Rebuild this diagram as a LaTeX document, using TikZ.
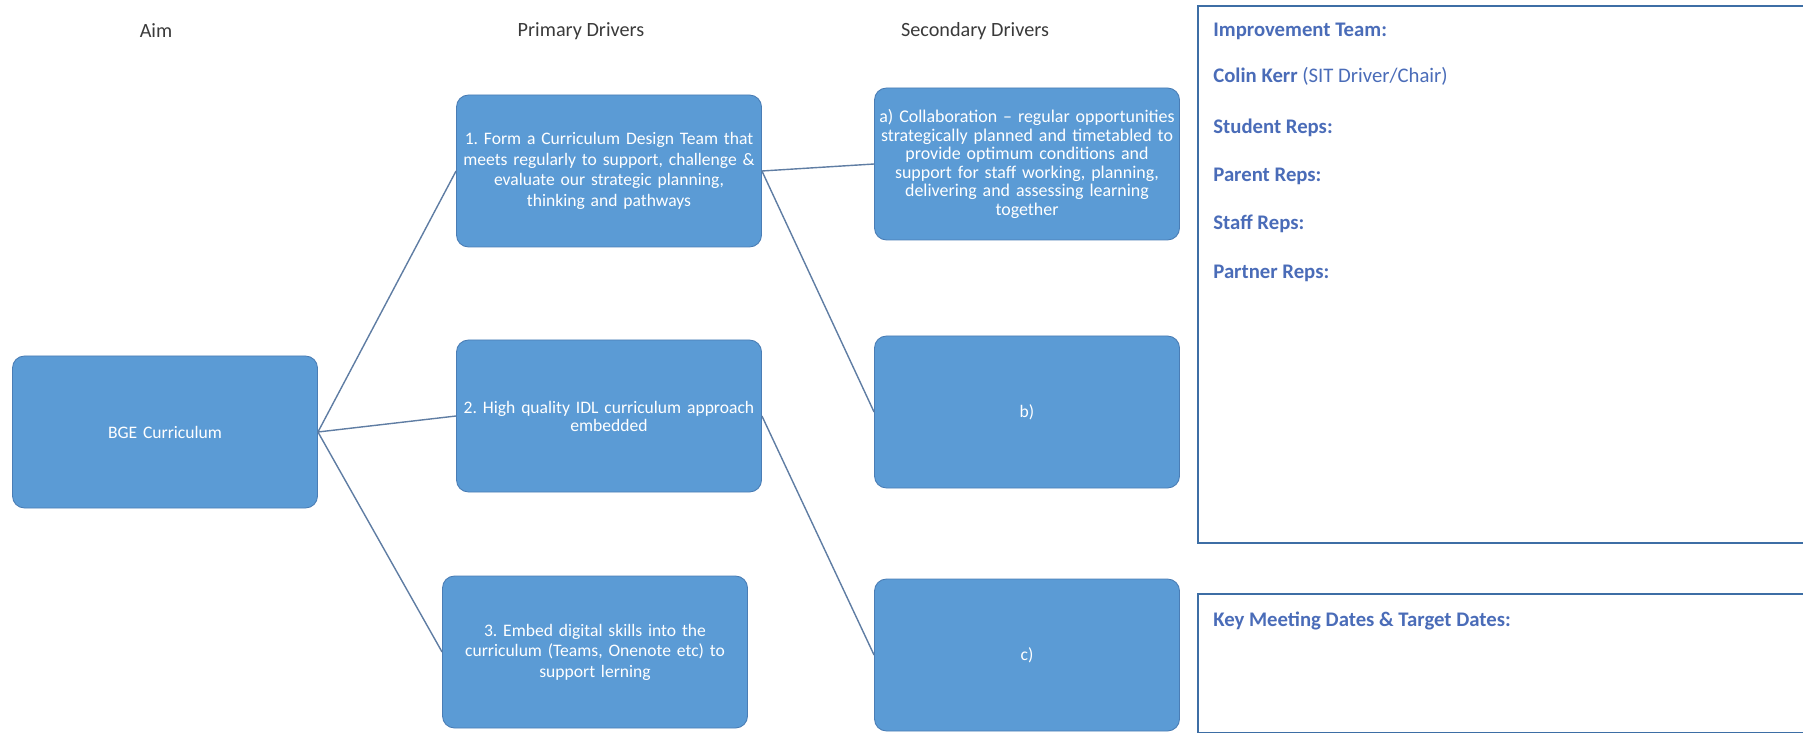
\documentclass[tikz,border=0pt]{standalone}
\usepackage{fontspec}
\setmainfont{Carlito}
\frenchspacing
\usetikzlibrary{positioning}
\definecolor{boxfill}{HTML}{5B9BD5}
\definecolor{boxline}{HTML}{4A7DB5}
\definecolor{linkline}{HTML}{5F7DA3}
\definecolor{panelline}{HTML}{3D6EA5}
\definecolor{paneltext}{HTML}{4A6CB8}
\definecolor{headtext}{HTML}{3A3A3A}

\begin{document}
\begin{tikzpicture}[x=0.2mm,y=-0.2mm,
    driver/.style={draw=boxline,line width=0.5pt,fill=boxfill,rounded corners=2.4mm,
        minimum width=6.1cm,minimum height=3.04cm,text width=5.9cm,align=center,
        text=white,font=\fontsize{10}{11.7}\selectfont,inner sep=1mm},
    heading/.style={text=headtext,font=\fontsize{11.5}{13}\selectfont},
    link/.style={draw=linkline,line width=0.8pt},
    panel/.style={draw=panelline,line width=1.1pt,anchor=north west,inner sep=0pt},
    entry/.style={anchor=west,text=paneltext,inner sep=0pt,
        font=\fontsize{11.8}{13}\selectfont\bfseries}]
\useasboundingbox (0,0) rectangle (1803,733);
\node[heading] (aimhead) at (156,31) {Aim};
\node[heading] (primhead) at (581,31) {Primary Drivers};
\node[heading] (sechead) at (975,31) {Secondary Drivers};
\node[driver] (aim) at (165,432) {BGE Curriculum};
\node[driver] (p1) at (609,171) {1. Form a Curriculum Design Team that\\
    meets regularly to support, challenge \&\\evaluate our strategic planning,\\
    thinking and pathways};
\node[driver,font=\fontsize{10}{10.2}\selectfont] (p2) at (609,416)
    {2. High quality IDL curriculum approach\\embedded};
\node[driver] (p3) at (595,652) {3. Embed digital skills into the\\
    curriculum (Teams, Onenote etc) to\\support lerning};
\node[driver,font=\fontsize{10.2}{10.6}\selectfont,text width=6.1cm,inner xsep=0pt]
    (sa) at (1027,164) {a) Collaboration -- regular opportunities\\
    strategically planned and timetabled to\\provide optimum conditions and\\
    support for staff working, planning,\\delivering and assessing learning\\together};
\node[driver] (sb) at (1027,412) {b)};
\node[driver] (sc) at (1027,655) {c)};
\draw[link] (aim.east) -- (p1.west);
\draw[link] (aim.east) -- (p2.west);
\draw[link] (aim.east) -- (p3.west);
\draw[link] (p1.east) -- (sa.west);
\draw[link] (p1.east) -- (sb.west);
\draw[link] (p2.east) -- (sc.west);
\node[panel,minimum width=12.4cm,minimum height=10.74cm] (team) at (1197,5) {};
\node[entry] (teamhead) at (1213,31) {Improvement Team:};
\node[entry] (chair) at (1213,76) {Colin Kerr \mdseries(SIT Driver/Chair)};
\node[entry] (students) at (1213,128) {Student Reps:};
\node[entry] (parents) at (1213,176) {Parent Reps:};
\node[entry] (staff) at (1213,224) {Staff Reps:};
\node[entry] (partners) at (1213,273) {Partner Reps:};
\node[panel,minimum width=12.4cm,minimum height=2.78cm] (dates) at (1197,593) {};
\node[entry] (dateshead) at (1213,621) {Key Meeting Dates \& Target Dates:};
\end{tikzpicture}
\end{document}
